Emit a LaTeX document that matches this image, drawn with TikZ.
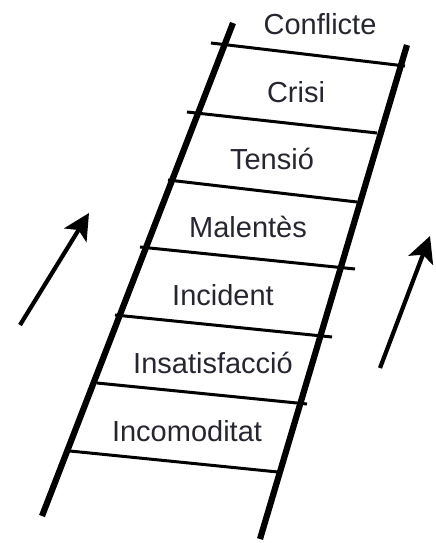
\documentclass[tikz,border=0pt]{standalone}
\usepackage{fontspec}
\setmainfont{Liberation Sans}
\usetikzlibrary{arrows.meta}
\definecolor{txt}{RGB}{38,38,48}
\begin{document}
\begin{tikzpicture}[x=1pt,y=-1pt,
  rail/.style={line width=6.2pt,line cap=butt},
  rung/.style={line width=3pt},
  uparrow/.style={line width=4.2pt,-{Stealth[length=26pt,width=26pt,inset=6pt]}},
  lbl/.style={text=txt,font=\fontsize{29}{30}\selectfont,inner sep=0pt,anchor=center}]
\useasboundingbox (0,0) rectangle (436,543);
% rails
\coordinate (lt) at (233,23);
\coordinate (lb) at (42,516);
\coordinate (rt) at (407,45);
\coordinate (rb) at (260,539);
\draw[rail] (lt) -- (lb);
\draw[rail] (rt) -- (rb);
% rungs
\coordinate (a1) at (211,43);  \coordinate (b1) at (405,66);
\coordinate (a2) at (187,112); \coordinate (b2) at (377,133);
\coordinate (a3) at (168,180); \coordinate (b3) at (357,202);
\coordinate (a4) at (140,247); \coordinate (b4) at (355,269);
\coordinate (a5) at (115,315); \coordinate (b5) at (332,337);
\coordinate (a6) at (97,383);  \coordinate (b6) at (307,404);
\coordinate (a7) at (70,451);  \coordinate (b7) at (278,472);
\foreach \i in {1,...,7} \draw[rung] (a\i) -- (b\i);
% labels
\node[lbl] (conflicte) at (320,24) {Conflicte};
\node[lbl] (crisi) at (296,92) {Crisi};
\node[lbl] (tensio) at (272,159) {Tensió};
\node[lbl] (malentes) at (248,227) {Malentès};
\node[lbl] (incident) at (223,295) {Incident};
\node[lbl] (insatisfaccio) at (213,363) {Insatisfacció};
\node[lbl] (incomoditat) at (187,431) {Incomoditat};
% arrows
\coordinate (la0) at (20,325);
\coordinate (la1) at (89,213);
\coordinate (ra0) at (380,368);
\coordinate (ra1) at (430,236);
\draw[uparrow] (la0) -- (la1);
\draw[uparrow] (ra0) -- (ra1);
\end{tikzpicture}
\end{document}
